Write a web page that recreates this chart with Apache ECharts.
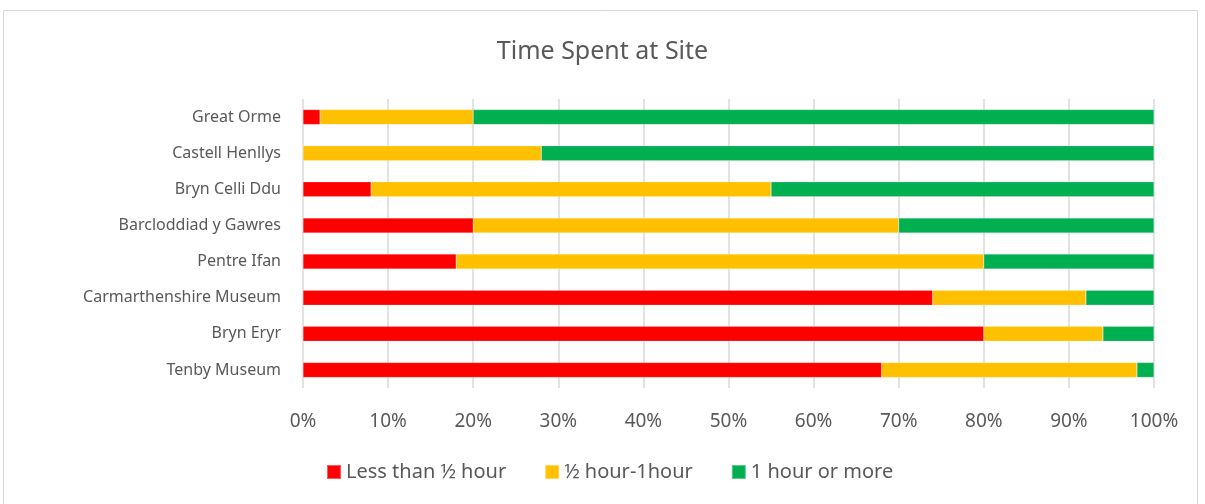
<!DOCTYPE html>
<html>
<head>
<meta charset="utf-8">
<script src="https://cdn.jsdelivr.net/npm/echarts@6/dist/echarts.min.js"></script>
<style>
  html, body { margin: 0; padding: 0; background: #fff; }
  #main { width: 1205px; height: 504px; }
</style>
</head>
<body>
<div id="main"></div>
<script>
// 站点名称
var sites = ['Great Orme', 'Castell Henllys', 'Bryn Celli Ddu', 'Barcloddiad y Gawres',
    'Pentre Ifan', 'Carmarthenshire Museum', 'Bryn Eryr', 'Tenby Museum'];
// 三组百分比
var lessHalf = [2, 0, 8, 20, 18, 74, 80, 68];
var halfToOne = [18, 28, 47, 50, 62, 18, 14, 30];
var oneOrMore = [80, 72, 45, 30, 20, 8, 6, 2];
var tickLabels = ['0%', '10%', '20%', '30%', '40%', '50%', '60%', '70%', '80%', '90%', '100%'];

var myChart = echarts.init(document.getElementById('main'));
var font = '"Noto Sans", sans-serif';
var textColor = '#595959';

function bar(name, color, data) {
    return {
        name: name,
        type: 'bar',
        stack: 'total',
        barWidth: 15,
        itemStyle: { color: color, borderColor: 'rgba(255,255,255,0.35)', borderWidth: 0.5 },
        data: data
    };
}

var option = {
    animation: false,
    textStyle: { fontFamily: font },
    graphic: [{
        type: 'rect',
        shape: { x: 3.5, y: 10.5, width: 1194, height: 510 },
        style: { fill: 'none', stroke: '#d9d9d9', lineWidth: 1 }
    }],
    title: {
        text: 'Time Spent at Site',
        left: 'center',
        top: 34,
        textStyle: { color: textColor, fontSize: 25, fontWeight: 'normal', fontFamily: font }
    },
    legend: {
        bottom: 17,
        left: 321,
        itemWidth: 14,
        itemHeight: 14,
        itemGap: 38,
        icon: 'rect',
        textStyle: { color: textColor, fontSize: 20, fontFamily: font },
        data: ['Less than ½ hour', '½ hour-1hour', '1 hour or more']
    },
    grid: {
        left: 303,
        right: 51,
        top: 99,
        bottom: 116
    },
    xAxis: {
        type: 'value',
        min: 0,
        max: 100,
        interval: 10,
        axisLine: { show: false },
        axisTick: { show: false },
        splitLine: { lineStyle: { color: '#d9d9d9', width: 1.5 } },
        axisLabel: {
            color: textColor,
            fontSize: 19,
            margin: 24,
            formatter: function (v) { return tickLabels[v / 10]; }
        }
    },
    yAxis: {
        type: 'category',
        inverse: true,
        data: sites,
        axisLine: { show: false },
        axisTick: { show: false },
        axisLabel: { color: textColor, fontSize: 16, margin: 22 }
    },
    series: [
        bar('Less than ½ hour', '#ff0000', lessHalf),
        bar('½ hour-1hour', '#ffc000', halfToOne),
        bar('1 hour or more', '#00b050', oneOrMore)
    ]
};
myChart.setOption(option);
</script>
</body>
</html>
